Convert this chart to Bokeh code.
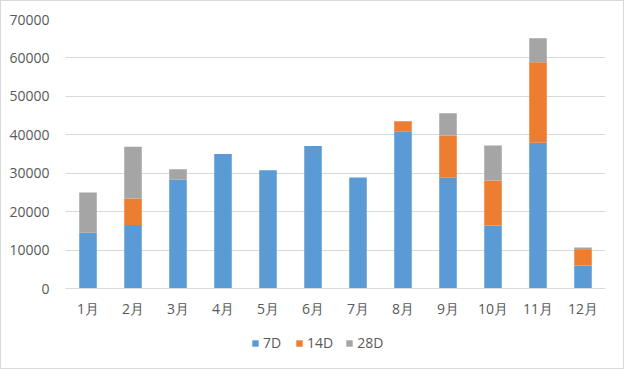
from bokeh.plotting import figure
from bokeh.layouts import column
from bokeh.models import ColumnDataSource, Legend, LegendItem, FixedTicker, FactorRange, Range1d
from bokeh.embed import file_html
from bokeh.resources import INLINE

months = ["1月", "2月", "3月", "4月", "5月", "6月", "7月", "8月", "9月", "10月", "11月", "12月"]
d7 = [14500, 16500, 28300, 35000, 30800, 37100, 28900, 40800, 28800, 16400, 37900, 6000]
d14 = [0, 6900, 0, 0, 0, 0, 0, 2700, 11000, 11700, 21000, 4000]
d28 = [10500, 13500, 2700, 0, 0, 0, 0, 0, 5800, 9100, 6200, 700]
series = ["7D", "14D", "28D"]
colors = ["#5B9BD5", "#ED7D31", "#A5A5A5"]
yticks = [0, 10000, 20000, 30000, 40000, 50000, 60000, 70000]

src = ColumnDataSource(dict(month=months, **{"7D": d7, "14D": d14, "28D": d28}))

FONT = "Open Sans"
TXT = "#595959"
GRID = "#d9d9d9"

p = figure(width=622, height=319, x_range=FactorRange(*months), y_range=Range1d(0, 70000),
           output_backend="svg", toolbar_location=None,
           min_border_left=64, min_border_right=18, min_border_top=18, min_border_bottom=31)
p.outline_line_color = None
p.background_fill_color = "white"
p.border_fill_color = "white"

rs = p.vbar_stack(series, x="month", width=0.39, color=colors, line_color=None, source=src)

p.yaxis.ticker = FixedTicker(ticks=yticks)
p.yaxis.formatter.use_scientific = False
for ax in (p.xaxis[0], p.yaxis[0]):
    ax.major_label_text_font = FONT
    ax.major_label_text_font_size = "14px"
    ax.major_label_text_color = TXT
    ax.major_tick_line_color = None
    ax.minor_tick_line_color = None
p.yaxis.axis_line_color = None
p.yaxis.major_label_standoff = 10
p.xaxis.axis_line_color = GRID
p.xaxis.major_label_standoff = 4
p.xgrid.grid_line_color = None
p.ygrid.grid_line_color = GRID
p.ygrid.ticker = FixedTicker(ticks=yticks)

# legend strip below the chart (same data, its range set so that no bar falls in view)
lg = figure(width=622, height=48, x_range=FactorRange(*months), y_range=Range1d(200000, 300000),
            output_backend="svg", toolbar_location=None,
            x_axis_location=None, y_axis_location=None,
            min_border_left=0, min_border_right=0, min_border_top=0, min_border_bottom=0)
lg.grid.visible = False
lg.outline_line_color = None
lg.background_fill_color = "white"
lg.border_fill_color = "white"
lrs = lg.vbar_stack(series, x="month", width=0.39, color=colors, line_color=None, source=src)

legend = Legend(items=[LegendItem(label=s, renderers=[r]) for s, r in zip(series, lrs)],
                orientation="horizontal", location=(186, 16))
legend.padding = 0
legend.margin = 0
legend.border_line_color = None
legend.background_fill_alpha = 0
legend.glyph_width = 8
legend.glyph_height = 8
legend.label_standoff = 4
legend.spacing = 12
legend.label_text_font = FONT
legend.label_text_font_size = "14px"
legend.label_text_color = TXT
lg.add_layout(legend, "center")

layout = column(p, lg, spacing=0)
layout.styles = {"border": "1px solid #d9d9d9", "background-color": "white"}

open("out.html", "w").write(file_html(layout, INLINE))
